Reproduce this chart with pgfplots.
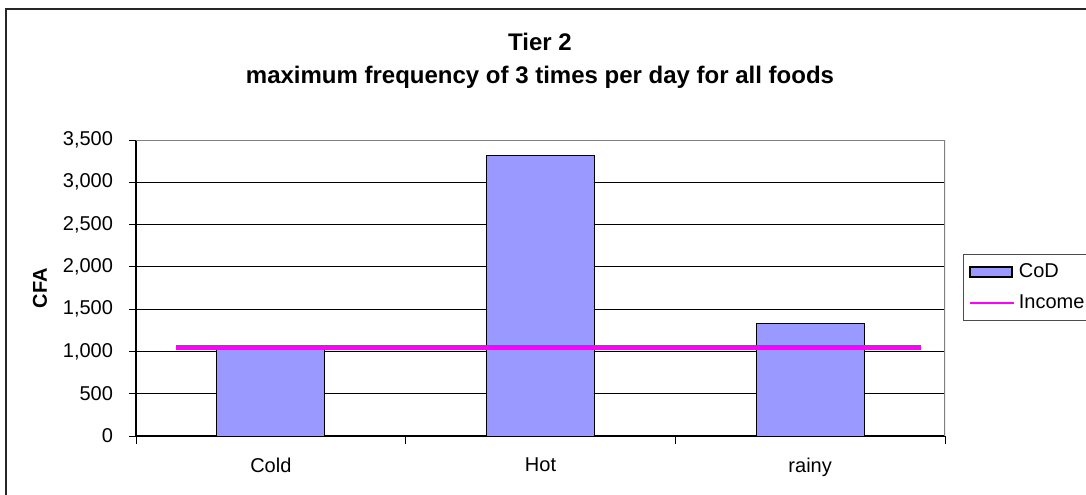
\documentclass[border=0pt]{standalone}
\usepackage{fontspec}
\setmainfont{Liberation Sans}
\usepackage{pgfplots}
\pgfplotsset{compat=1.18}

\definecolor{barblue}{HTML}{9999FF}
\definecolor{incomeline}{HTML}{FF00FF}
\definecolor{framegray}{HTML}{808080}

\begin{document}
\begin{tikzpicture}
\useasboundingbox (0,0) rectangle (543pt,247pt);
\begin{scope}
\clip (0,0) rectangle (543pt,247pt);
% chart frame
\draw[line width=1pt, draw=black!85] (3pt,-10pt) rectangle (600pt,242.5pt);

\begin{axis}[
  at={(68pt,29pt)}, anchor=south west,
  scale only axis, width=404.5pt, height=148pt,
  xmin=-0.5, xmax=2.5, ymin=0, ymax=3500,
  xtick={0,1,2}, xticklabels={Cold,Hot,rainy},
  major x tick style={draw=none},
  minor xtick={-0.5,0.5,1.5,2.5},
  minor tick length=4pt,
  ytick={0,500,...,3500},
  major tick length=3.5pt,
  tick align=outside, tick pos=left,
  tick style={black, line width=0.5pt},
  ymajorgrids, grid style={black, line width=0.5pt},
  axis x line*=bottom, axis y line*=left,
  axis line style={black, line width=0.6pt, -},
  ticklabel style={font=\fontsize{10}{12}\selectfont},
  yticklabel style={xshift=-4.5pt},
  xticklabel style={yshift=-4pt},
  /pgf/number format/.cd, 1000 sep={,}, assume math mode=true,
  /pgfplots/.cd,
  bar width=54pt,
  legend style={
    at={(1.0218,0.6149)}, anchor=north west,
    draw=black!70, line width=0.6pt,
    font=\fontsize{10}{12}\selectfont,
    row sep=3pt, inner xsep=3pt, inner ysep=2.5pt,
    cells={anchor=west},
  },
]
\addplot[ybar, fill=barblue, draw=black, line width=0.5pt,
  legend image code/.code={\draw[fill=barblue,draw=black,line width=0.6pt] (0pt,-2.5pt) rectangle (21pt,2.5pt);}]
  coordinates {(0,1040) (1,3320) (2,1330)};
\addlegendentry{CoD}
\addplot[incomeline, line width=2.5pt, mark=none,
  legend image code/.code={\draw[incomeline,line width=0.8pt] (0pt,0pt) -- (22pt,0pt);}]
  coordinates {(-0.35,1047) (2.41,1047)};
\addlegendentry{Income}
\draw[framegray, line width=0.6pt] (rel axis cs:0,1) -- (rel axis cs:1,1) -- (rel axis cs:1,0);
\end{axis}

% titles and axis label
\node[font=\bfseries\fontsize{12}{14}\selectfont] at (270pt,226pt) {Tier 2};
\node[font=\bfseries\fontsize{12}{14}\selectfont] at (270pt,208.5pt) {maximum frequency of 3 times per day for all foods};
\node[font=\bfseries\fontsize{10}{12}\selectfont, rotate=90] at (20pt,103pt) {CFA};
\end{scope}
\end{tikzpicture}
\end{document}
